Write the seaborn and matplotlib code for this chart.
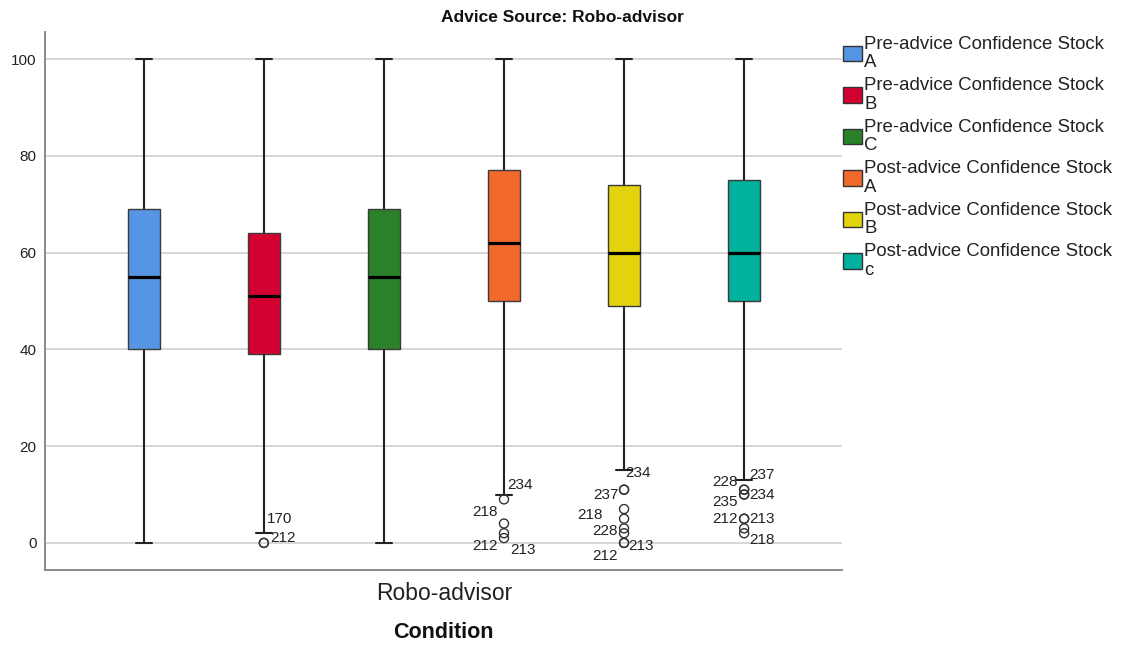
import matplotlib
matplotlib.use("Agg")
import matplotlib.pyplot as plt
from matplotlib.patches import Patch
import pandas as pd
import seaborn as sns

# ---- data -------------------------------------------------------------
condition = "Robo-advisor"
measures = [
    "Pre-advice Confidence Stock A",
    "Pre-advice Confidence Stock B",
    "Pre-advice Confidence Stock C",
    "Post-advice Confidence Stock A",
    "Post-advice Confidence Stock B",
    "Post-advice Confidence Stock c",
]
legend_labels = [
    "Pre-advice Confidence Stock\nA",
    "Pre-advice Confidence Stock\nB",
    "Pre-advice Confidence Stock\nC",
    "Post-advice Confidence Stock\nA",
    "Post-advice Confidence Stock\nB",
    "Post-advice Confidence Stock\nc",
]
box_colors = ["#5595E3", "#D50032", "#2A812A", "#F26A2B", "#E2D30D", "#00B19D"]

# five-number summaries: whisker ends, quartiles and medians
whisker_low = [0, 2, 0, 10, 15, 13]
quartile_1 = [40, 39, 40, 50, 49, 50]
medians = [55, 51, 55, 62, 60, 60]
quartile_3 = [69, 64, 69, 77, 74, 75]
whisker_high = [100, 100, 100, 100, 100, 100]

# outlying cases (value, case number)
pre_b_outliers = [0, 0]
pre_b_cases = ["170", "212"]
post_a_outliers = [9, 4, 2, 1]
post_a_cases = ["234", "218", "212", "213"]
post_b_outliers = [11, 11, 7, 5, 3, 2, 0, 0]
post_b_cases = ["234", "237", "", "218", "228", "", "213", "212"]
post_c_outliers = [11, 11, 10, 10, 5, 5, 3, 2]
post_c_cases = ["228", "237", "235", "234", "212", "213", "", "218"]

# pixel offsets of each case-number label from its circle
pre_b_offsets = [(3, 24), (6, 5)]
post_a_offsets = [(3, 14), (-6, 12), (-6, -13), (6, -12)]
post_b_offsets = [(1, 17), (-5, -5), None, (-21, 4), (-6, -3), None, (4, -3), (-6, -13)]
post_c_offsets = [(-6, 8), (5, 15), (-6, -7), (5, 0), (-6, 0), (5, 0), None, (5, -7)]

outlier_sets = {
    measures[1]: (pre_b_outliers, pre_b_cases, pre_b_offsets),
    measures[3]: (post_a_outliers, post_a_cases, post_a_offsets),
    measures[4]: (post_b_outliers, post_b_cases, post_b_offsets),
    measures[5]: (post_c_outliers, post_c_cases, post_c_offsets),
}

# ---- tables ----------------------------------------------------------
box_rows = []
for m, lo, a, med, b, hi in zip(measures, whisker_low, quartile_1, medians,
                                quartile_3, whisker_high):
    for v in (lo, a, med, b, hi):
        box_rows.append({"Condition": condition, "Measure": m, "Confidence": v})
box_df = pd.DataFrame(box_rows)

out_rows = []
for m, (vals, cases, _) in outlier_sets.items():
    for v, c in zip(vals, cases):
        out_rows.append({"Condition": condition, "Measure": m,
                         "Confidence": v, "Case": c})
out_df = pd.DataFrame(out_rows)

# ---- style -----------------------------------------------------------
sns.set_theme(style="white")
plt.rcParams["font.family"] = ["Liberation Sans", "DejaVu Sans"]
plt.rcParams["text.color"] = "#222222"

fig = plt.figure(figsize=(11.25, 6.46), dpi=100)
ax = fig.add_axes([45 / 1125, 1 - 570 / 646, (842 - 45) / 1125, (570 - 32) / 646])

sns.boxplot(
    data=box_df, x="Condition", y="Confidence", hue="Measure",
    hue_order=measures, palette=box_colors, saturation=1,
    whis=(0, 100), width=0.8, gap=0.733, showfliers=False,
    linewidth=1.0, linecolor="#3a3a3a",
    medianprops=dict(color="black", linewidth=2.3),
    whiskerprops=dict(color="#222222", linewidth=1.5),
    capprops=dict(color="#222222", linewidth=1.5),
    legend=False, ax=ax,
)

sns.stripplot(
    data=out_df, x="Condition", y="Confidence", hue="Measure",
    hue_order=measures, palette=box_colors, dodge=True, jitter=False,
    size=6.5, linewidth=1.0, edgecolor="#333333", legend=False, ax=ax,
    zorder=3,
)
for coll in ax.collections:
    coll.set_facecolor("none")
    coll.set_edgecolor("#333333")

# centre of each box, taken from the drawn patches
box_x = {}
for m, patch in zip(measures, ax.patches):
    xs = patch.get_path().vertices[:, 0]
    box_x[m] = (xs.min() + xs.max()) / 2

for m, (vals, cases, offsets) in outlier_sets.items():
    for v, c, off in zip(vals, cases, offsets):
        if not c or off is None:
            continue
        dx, dy = off
        ax.annotate(c, (box_x[m], v), xytext=(dx, dy), textcoords="offset pixels",
                    ha="left" if dx > 0 else "right", va="center",
                    fontsize=11, color="#222222")

# ---- axes ------------------------------------------------------------
ax.set_xlim(-0.443, 0.442)
ax.set_ylim(-5.6, 105.6)
ax.set_yticks([0, 20, 40, 60, 80, 100])
ax.yaxis.grid(True, color="#d4d4d4", linewidth=1.3)
ax.set_axisbelow(True)
for side in ("top", "right"):
    ax.spines[side].set_visible(False)
for side in ("left", "bottom"):
    ax.spines[side].set_color("#8a8a8a")
    ax.spines[side].set_linewidth(1.4)
ax.tick_params(axis="y", length=0, pad=6, labelsize=11, labelcolor="#222222")
ax.tick_params(axis="x", length=0, pad=9, labelsize=16.5, labelcolor="#222222")
ax.set_ylabel("")
ax.set_xlabel("Condition", fontsize=15.5, fontweight="bold", labelpad=12,
              color="#111111")

fig.suptitle("Advice Source: Robo-advisor", x=0.5, y=1 - 17 / 646, va="center",
             fontsize=12.5, fontweight="bold", color="#111111")

handles = [Patch(facecolor=c, edgecolor="#333333", linewidth=1.0) for c in box_colors]
leg = ax.legend(handles, legend_labels, loc="upper left",
                bbox_to_anchor=(843 / 1125, 1 - 36 / 646),
                bbox_transform=fig.transFigure, frameon=False, borderpad=0,
                borderaxespad=0, fontsize=13.4, handlelength=1.0,
                handleheight=0.9, handletextpad=0.15, labelspacing=0.33)
for t in leg.get_texts():
    t.set_linespacing(1.1)

fig.savefig("out.png", dpi=100)
